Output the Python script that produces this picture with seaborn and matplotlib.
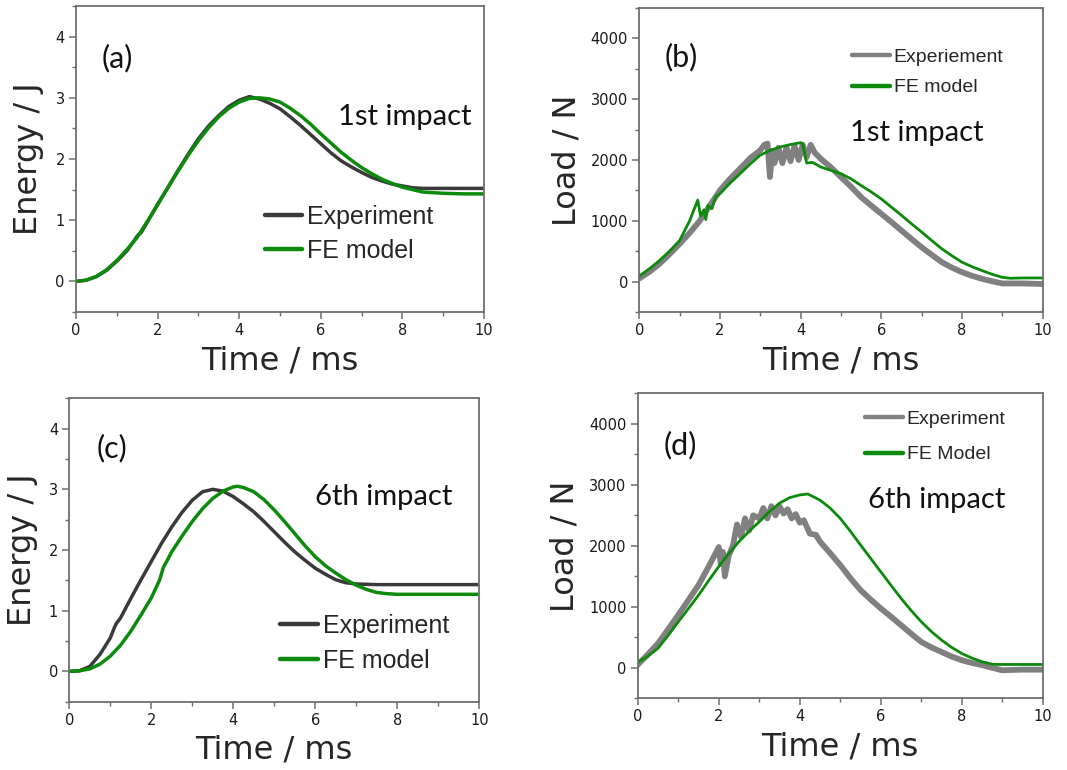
import numpy as np
import pandas as pd
import matplotlib
matplotlib.use("Agg")
import matplotlib.pyplot as plt
from matplotlib.ticker import MultipleLocator
import seaborn as sns

# ---------------- data ----------------
# (a) Energy, 1st impact
t_a_exp = [0, 0.25, 0.5, 0.75, 1.0, 1.25, 1.4, 1.5, 1.6, 1.75, 2.0, 2.25, 2.5, 2.75, 3.0, 3.25, 3.5, 3.75, 4.0, 4.25, 4.5, 4.75,
           5.0, 5.25, 5.5, 5.75, 6.0, 6.25, 6.5, 6.75, 7.0, 7.25, 7.5, 7.75, 8.0, 8.25, 8.5, 9.0, 10.0]
e_a_exp = [0, 0.02, 0.08, 0.18, 0.33, 0.50, 0.64, 0.74, 0.80, 0.97, 1.26, 1.53, 1.81, 2.08, 2.33, 2.54, 2.71, 2.86, 2.96, 3.02, 2.98, 2.91,
           2.82, 2.69, 2.55, 2.40, 2.25, 2.10, 1.97, 1.87, 1.78, 1.70, 1.64, 1.59, 1.56, 1.53, 1.52, 1.52, 1.52]
t_a_fe = [0, 0.25, 0.5, 0.75, 1.0, 1.25, 1.5, 1.75, 2.0, 2.25, 2.5, 2.75, 3.0, 3.25, 3.5, 3.75, 4.0, 4.25, 4.5, 4.75,
          5.0, 5.25, 5.5, 5.75, 6.0, 6.25, 6.5, 6.75, 7.0, 7.25, 7.5, 7.75, 8.0, 8.25, 8.5, 8.75, 9.0, 9.5, 10.0]
e_a_fe = [0, 0.02, 0.08, 0.19, 0.34, 0.52, 0.72, 0.98, 1.25, 1.53, 1.80, 2.06, 2.30, 2.51, 2.69, 2.83, 2.93, 2.99, 3.00, 2.98,
          2.93, 2.83, 2.71, 2.57, 2.41, 2.26, 2.11, 1.98, 1.86, 1.76, 1.67, 1.60, 1.54, 1.50, 1.46, 1.45, 1.44, 1.43, 1.43]

# (b) Load, 1st impact
t_b_exp = [0, 0.25, 0.5, 0.75, 1.0, 1.25, 1.5, 1.75, 2.0, 2.25, 2.5, 2.75, 3.0, 3.1, 3.18, 3.24, 3.3, 3.35, 3.45, 3.55, 3.65,
           3.75, 3.85, 3.95, 4.05, 4.15, 4.25, 4.35, 4.5, 4.75, 5.0, 5.25, 5.5, 5.75, 6.0, 6.25, 6.5, 6.75, 7.0, 7.25,
           7.5, 7.75, 8.0, 8.25, 8.5, 8.75, 9.0, 9.5, 10.0]
l_b_exp = [50, 160, 290, 450, 620, 800, 1000, 1250, 1500, 1690, 1860, 2030, 2160, 2250, 2270, 1720, 2150, 1950, 2200, 1950, 2200,
           1980, 2230, 2000, 2250, 2050, 2250, 2120, 2020, 1880, 1720, 1560, 1390, 1250, 1115, 980, 840, 700, 565, 440,
           320, 230, 155, 95, 45, 5, -30, -30, -40]
t_b_fe = [0, 0.25, 0.5, 0.75, 1.0, 1.25, 1.45, 1.52, 1.6, 1.65, 1.7, 1.8, 1.9, 2.0, 2.25, 2.5, 2.75, 3.0, 3.25, 3.5, 3.75,
          4.0, 4.05, 4.15, 4.3, 4.5, 4.75, 5.0, 5.25, 5.5, 5.75, 6.0, 6.25, 6.5, 6.75, 7.0, 7.25, 7.5, 7.75, 8.0,
          8.25, 8.5, 8.75, 9.0, 9.2, 9.5, 10.0]
l_b_fe = [90, 210, 345, 500, 675, 1000, 1340, 1080, 1180, 1020, 1250, 1200, 1400, 1445, 1620, 1775, 1935, 2080, 2160, 2215, 2255,
          2285, 2270, 1950, 1960, 1885, 1830, 1775, 1690, 1580, 1475, 1360, 1225, 1090, 950, 815, 675, 540, 425, 320,
          245, 180, 120, 70, 55, 60, 60]

# (c) Energy, 6th impact
t_c_exp = [0, 0.25, 0.5, 0.75, 1.0, 1.1, 1.15, 1.25, 1.5, 1.75, 2.0, 2.25, 2.5, 2.75, 3.0, 3.25, 3.5, 3.75, 4.0, 4.25, 4.5,
           4.75, 5.0, 5.25, 5.5, 5.75, 6.0, 6.25, 6.5, 6.75, 7.0, 7.5, 10.0]
e_c_exp = [0, 0.01, 0.08, 0.28, 0.55, 0.72, 0.79, 0.88, 1.20, 1.51, 1.81, 2.11, 2.38, 2.62, 2.82, 2.96, 3.00, 2.97, 2.88, 2.76, 2.63,
           2.47, 2.30, 2.13, 1.97, 1.83, 1.70, 1.60, 1.51, 1.46, 1.44, 1.43, 1.43]
t_c_fe = [0, 0.25, 0.5, 0.75, 1.0, 1.25, 1.5, 1.75, 2.0, 2.2, 2.3, 2.35, 2.5, 2.75, 3.0, 3.25, 3.5, 3.75, 4.0, 4.1, 4.25, 4.5,
          4.75, 5.0, 5.25, 5.5, 5.75, 6.0, 6.25, 6.5, 6.75, 7.0, 7.25, 7.5, 7.75, 8.0, 10.0]
e_c_fe = [0, 0.01, 0.04, 0.12, 0.25, 0.43, 0.66, 0.93, 1.21, 1.50, 1.72, 1.78, 1.97, 2.23, 2.47, 2.68, 2.85, 2.97, 3.04, 3.05, 3.03, 2.96,
          2.83, 2.66, 2.47, 2.27, 2.07, 1.89, 1.74, 1.62, 1.51, 1.42, 1.35, 1.30, 1.28, 1.27, 1.27]

# (d) Load, 6th impact
t_d_exp = [0, 0.25, 0.5, 0.75, 1.0, 1.25, 1.5, 1.75, 1.9, 2.0, 2.05, 2.1, 2.15, 2.25, 2.35, 2.45, 2.55, 2.65, 2.75, 2.85, 3.0,
           3.1, 3.2, 3.3, 3.4, 3.5, 3.6, 3.7, 3.8, 3.9, 4.0, 4.1, 4.25, 4.4, 4.5, 4.75, 5.0, 5.25, 5.5, 5.75, 6.0, 6.25,
           6.5, 6.75, 7.0, 7.25, 7.5, 7.75, 8.0, 8.25, 8.5, 8.75, 9.0, 9.5, 10.0]
l_d_exp = [50, 220, 400, 630, 865, 1110, 1355, 1660, 1850, 1980, 1700, 1900, 1500, 1850, 2000, 2350, 2150, 2450, 2250, 2500, 2450,
           2620, 2450, 2650, 2500, 2650, 2530, 2600, 2450, 2520, 2380, 2420, 2200, 2180, 2070, 1880, 1685, 1470, 1275, 1120, 975, 840,
           700, 560, 425, 335, 260, 185, 125, 80, 45, 0, -40, -30, -30]
t_d_fe = [0, 0.25, 0.5, 0.75, 1.0, 1.25, 1.5, 1.75, 2.0, 2.25, 2.5, 2.75, 3.0, 3.25, 3.5, 3.75, 4.0, 4.2, 4.5, 4.75,
          5.0, 5.25, 5.5, 5.75, 6.0, 6.25, 6.5, 6.75, 7.0, 7.25, 7.5, 7.75, 8.0, 8.25, 8.5, 8.75, 8.9, 10.0]
l_d_fe = [90, 190, 320, 530, 755, 970, 1190, 1430, 1660, 1875, 2070, 2240, 2395, 2560, 2700, 2790, 2835, 2850, 2750, 2620,
          2450, 2240, 2015, 1795, 1575, 1355, 1140, 940, 755, 595, 455, 335, 235, 160, 100, 60, 55, 55]

xlabel = "Time / ms"
ylabel_energy = "Energy / J"
ylabel_load = "Load / N"
panel_tags = ["(a)", "(b)", "(c)", "(d)"]
impact_tags = ["1st impact", "1st impact", "6th impact", "6th impact"]
legend_labels = [["Experiment", "FE model"], ["Experiement", "FE model"],
                 ["Experiment", "FE model"], ["Experiment", "FE Model"]]

# ---------------- style ----------------
sns.set_theme(style="ticks")
plt.rcParams["font.family"] = ["DejaVu Sans"]

GREEN = "#0c8a0c"
DARK = "#3a3a3a"
GRAY = "#808080"
SPINE = "#6e6e6e"

fig = plt.figure(figsize=(10.67, 7.70), dpi=100)
fig.patch.set_facecolor("white")

# axes rectangles [left, bottom, width, height] in figure fraction
rects = [
    [0.0712, 0.5948, 0.3824, 0.3974],
    [0.5991, 0.5948, 0.3781, 0.3948],
    [0.0649, 0.0887, 0.3843, 0.3940],
    [0.5977, 0.0931, 0.3796, 0.3960],
]

series = [
    (t_a_exp, e_a_exp, t_a_fe, e_a_fe, "energy"),
    (t_b_exp, l_b_exp, t_b_fe, l_b_fe, "load"),
    (t_c_exp, e_c_exp, t_c_fe, e_c_fe, "energy"),
    (t_d_exp, l_d_exp, t_d_fe, l_d_fe, "load"),
]

legend_pos = [(0.463, 0.350), (0.527, 0.868), (0.514, 0.290), (0.561, 0.945)]
legend_spacing = [0.40, 0.67, 0.44, 0.93]
tag_pos = [(0.062, 0.83), (0.062, 0.839), (0.066, 0.836), (0.065, 0.83)]
impact_pos = [(0.642, 0.637), (0.522, 0.589), (0.599, 0.675), (0.569, 0.650)]

for i, (rect, (tx, ty, fx, fy, kind)) in enumerate(zip(rects, series)):
    ax = fig.add_axes(rect)
    ax.set_facecolor("white")
    df_exp = pd.DataFrame({"t": tx, "v": ty})
    df_fe = pd.DataFrame({"t": fx, "v": fy})
    if kind == "energy":
        sns.lineplot(data=df_exp, x="t", y="v", ax=ax, color=DARK, lw=2.5,
                     label=legend_labels[i][0], sort=False, estimator=None)
        sns.lineplot(data=df_fe, x="t", y="v", ax=ax, color=GREEN, lw=2.5,
                     label=legend_labels[i][1], sort=False, estimator=None)
        ax.set_ylim(-0.5, 4.5)
        ax.yaxis.set_major_locator(MultipleLocator(1))
        ax.yaxis.set_minor_locator(MultipleLocator(0.5))
        ax.set_ylabel(ylabel_energy, fontsize=23, labelpad=8)
        leg_fs, hl = 18, 1.5
    else:
        sns.lineplot(data=df_exp, x="t", y="v", ax=ax, color=GRAY, lw=4.2,
                     label=legend_labels[i][0], sort=False, estimator=None)
        sns.lineplot(data=df_fe, x="t", y="v", ax=ax, color=GREEN, lw=2.0,
                     label=legend_labels[i][1], sort=False, estimator=None)
        ax.set_ylim(-500, 4500)
        ax.yaxis.set_major_locator(MultipleLocator(1000))
        ax.yaxis.set_minor_locator(MultipleLocator(500))
        ax.set_ylabel(ylabel_load, fontsize=23, labelpad=6)
        leg_fs, hl = 14, 1.95

    ax.set_xlim(0, 10)
    ax.xaxis.set_major_locator(MultipleLocator(2))
    ax.xaxis.set_minor_locator(MultipleLocator(1))
    ax.set_xlabel(xlabel, fontsize=23, labelpad=5)

    for sp in ax.spines.values():
        sp.set_visible(True)
        sp.set_color(SPINE)
        sp.set_linewidth(1.3)
    ax.tick_params(which="major", direction="out", length=5, width=1.1,
                   color=SPINE, labelsize=10.5, labelcolor="#1a1a1a", pad=3)
    ax.tick_params(which="minor", direction="out", length=3, width=1.0, color=SPINE)
    ax.tick_params(top=False, right=False, which="both")

    leg = ax.legend(loc="upper left", bbox_to_anchor=legend_pos[i], frameon=False,
                    handlelength=hl, handletextpad=0.2,
                    borderpad=0, borderaxespad=0, labelspacing=legend_spacing[i],
                    prop={"family": "Liberation Sans", "size": leg_fs})
    for line in leg.get_lines():
        line.set_linewidth(3.2)

    ax.text(*tag_pos[i], panel_tags[i], transform=ax.transAxes, ha="left",
            va="center", fontsize=22, family="Lato", color="#111111")
    ax.text(*impact_pos[i], impact_tags[i], transform=ax.transAxes, ha="left",
            va="center", fontsize=21, family="Lato", color="#111111")

fig.savefig("out.png", dpi=100, facecolor="white")
